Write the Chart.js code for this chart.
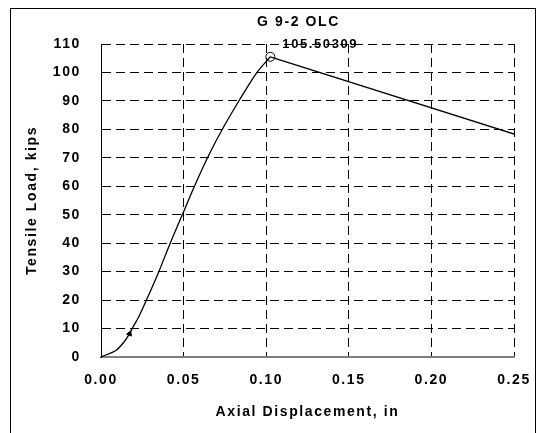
<!DOCTYPE html>
<html>
<head>
<meta charset="utf-8">
<title>G 9-2 OLC</title>
<script src="https://cdn.jsdelivr.net/npm/chart.js@4.4.1/dist/chart.umd.min.js"></script>
<style>
    body { margin: 0; background: #fff; }
    #contenedor { position: relative; width: 540px; height: 433px; overflow: hidden; }
    #marco { position: absolute; left: 10px; top: 8px; width: 524px; height: 460px; border: 1px solid #000; }
    #grafico { position: absolute; left: 0; top: 0; }
</style>
</head>
<body>
<div id="contenedor">
    <div id="marco"></div>
    <canvas id="grafico" width="540" height="433"></canvas>
</div>
<script>
// Datos leidos del grafico
// tramo de subida (curva) hasta el maximo
const desplazamientoSubida = [0, 0.0092, 0.0142, 0.0173, 0.0189, 0.0233, 0.0275, 0.0350, 0.0419, 0.0496, 0.0567, 0.0658, 0.0738, 0.0839, 0.0941, 0.1025];
const cargaSubida = [0, 2.4, 5.5, 8.2, 10, 14.7, 20, 30, 40, 50.5, 60.2, 71.6, 80.4, 90.4, 99.8, 105.50309];
// tramo de bajada (recto) desde el maximo
const desplazamientoBajada = [0.1025, 0.252];
const cargaBajada = [105.50309, 78];
const cargaMaxima = 105.50309;
const desplazamientoMaximo = 0.1025;
const flecha = [0.0173, 8.2];
const ticksX = [0, 0.05, 0.10, 0.15, 0.20, 0.25];
const ticksY = [0, 10, 20, 30, 40, 50, 60, 70, 80, 90, 100, 110];

const familia = "'Liberation Sans', Arial, sans-serif";
const fuente = { family: familia, size: 14, weight: 'bold' };

// Espaciado entre letras como en el original
const pluginEspaciado = {
    id: 'espaciado',
    beforeUpdate(chart) { chart.ctx.letterSpacing = '1.6px'; },
    beforeDraw(chart) { chart.ctx.letterSpacing = '1.6px'; }
};

// Titulo y etiqueta del valor maximo
const pluginTextos = {
    id: 'textos',
    afterDatasetsDraw(chart) {
        const ctx = chart.ctx;
        const area = chart.chartArea;
        const x = chart.scales.x.getPixelForValue(desplazamientoMaximo);
        const y = chart.scales.y.getPixelForValue(cargaMaxima);
        ctx.save();
        ctx.fillStyle = '#000';
        ctx.textBaseline = 'middle';
        ctx.font = 'bold 14px ' + familia;
        ctx.textAlign = 'center';
        ctx.fillText('G 9-2 OLC', (area.left + area.right) / 2 - 9, 22);
        ctx.font = 'bold 13px ' + familia;
        ctx.textAlign = 'left';
        ctx.fillText(cargaMaxima.toFixed(5), x + 12, y - 12);
        ctx.restore();
    }
};

const ctx = document.getElementById('grafico').getContext('2d');
new Chart(ctx, {
    type: 'scatter',
    data: {
        datasets: [
            {
                data: desplazamientoSubida.map((d, i) => ({ x: d, y: cargaSubida[i] })),
                showLine: true,
                borderColor: '#000',
                borderWidth: 1.3,
                pointRadius: 0,
                tension: 0.3
            },
            {
                data: desplazamientoBajada.map((d, i) => ({ x: d, y: cargaBajada[i] })),
                showLine: true,
                borderColor: '#000',
                borderWidth: 1.3,
                pointRadius: 0,
                tension: 0
            },
            {
                data: [{ x: desplazamientoMaximo, y: cargaMaxima }],
                pointRadius: 4.5,
                pointBorderColor: '#000',
                pointBorderWidth: 1,
                pointBackgroundColor: 'rgba(0,0,0,0)'
            },
            {
                data: [{ x: flecha[0], y: flecha[1] }],
                pointStyle: 'triangle',
                pointRotation: 22,
                pointRadius: 3,
                pointBorderColor: '#000',
                pointBackgroundColor: '#000'
            }
        ]
    },
    options: {
        responsive: false,
        animation: false,
        layout: { padding: { left: 24, right: 26, top: 44, bottom: 12 } },
        plugins: {
            legend: { display: false },
            tooltip: { enabled: false },
            title: { display: false }
        },
        scales: {
            x: {
                type: 'linear',
                min: 0,
                max: 0.25,
                afterBuildTicks: (eje) => { eje.ticks = ticksX.map(v => ({ value: v })); },
                afterFit: (eje) => {
                    eje.height = 64;
                    eje.paddingLeft = 0;
                    eje.paddingRight = 0;
                },
                ticks: {
                    color: '#000',
                    font: fuente,
                    padding: 15,
                    callback: (v) => v.toFixed(2)
                },
                grid: {
                    color: '#000',
                    lineWidth: 1,
                    drawTicks: false
                },
                border: { color: '#808080', width: 2, dash: [9, 5] },
                title: {
                    display: true,
                    text: 'Axial Displacement, in',
                    color: '#000',
                    font: fuente,
                    padding: { top: 12, bottom: 0 }
                }
            },
            y: {
                type: 'linear',
                min: 0,
                max: 110,
                afterBuildTicks: (eje) => { eje.ticks = ticksY.map(v => ({ value: v })); },
                afterFit: (eje) => {
                    eje.width = 77;
                    eje.paddingTop = 0;
                    eje.paddingBottom = 0;
                },
                ticks: {
                    color: '#000',
                    font: fuente,
                    padding: 20
                },
                grid: {
                    color: '#000',
                    lineWidth: 1,
                    drawTicks: false
                },
                border: { color: '#000', width: 1, dash: [9, 5] },
                title: {
                    display: true,
                    text: 'Tensile Load, kips',
                    color: '#000',
                    font: fuente,
                    padding: { top: 0, bottom: 0 }
                }
            }
        }
    },
    plugins: [pluginEspaciado, pluginTextos]
});
</script>
</body>
</html>
